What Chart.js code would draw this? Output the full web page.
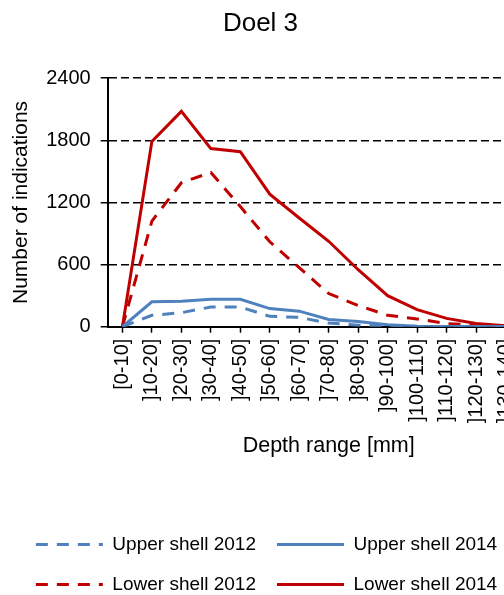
<!DOCTYPE html>
<html>
<head>
<meta charset="utf-8">
<script src="https://cdn.jsdelivr.net/npm/chart.js@4/dist/chart.umd.min.js"></script>
<style>
  html, body { margin: 0; padding: 0; background: #fff; overflow: hidden; }
  #wrap { width: 565px; height: 604px; }
</style>
</head>
<body>
<div id="wrap"><canvas id="grafDoel" width="565" height="604"></canvas></div>
<script>
// data (the last range is cut off at the right edge)
const depthLabels = [
  '[0-10]', ']10-20]', ']20-30]', ']30-40]', ']40-50]', ']50-60]', ']60-70]',
  ']70-80]', ']80-90]', ']90-100]', ']100-110]', ']110-120]', ']120-130]', ']130-140]', ']140-150]'
];
const upperShell2012 = [0, 110, 135, 190, 190, 100, 90, 35, 15, 5, 3, 2, 1, 0, 0];
const upperShell2014 = [0, 240, 245, 265, 265, 175, 150, 70, 50, 18, 5, 3, 2, 1, 0];
const lowerShell2012 = [0, 1020, 1390, 1490, 1160, 820, 570, 320, 205, 110, 75, 30, 15, 5, 2];
const lowerShell2014 = [0, 1790, 2080, 1720, 1690, 1280, 1050, 825, 550, 300, 165, 80, 30, 10, 5];
const yTicks = [0, 600, 1200, 1800, 2400];

const blue = '#4F81BD';
const red = '#C00000';
const fontName = '"Liberation Sans", Arial, sans-serif';

// title and legend sit left of the plot centre in the original
const shiftBoxes = {
  id: 'shiftBoxes',
  afterLayout(chart) {
    const move = (box, dx) => { if (box) { box.left += dx; box.right += dx; } };
    move(chart.titleBlock, -25);
    move(chart.legend, -19);
  }
};

const ctx = document.getElementById('grafDoel').getContext('2d');

const grafDoel = new Chart(ctx, {
  type: 'line',
  data: {
    labels: depthLabels,
    datasets: [
      { label: 'Upper shell 2012', data: upperShell2012, borderColor: blue, backgroundColor: blue,
        borderWidth: 3, borderDash: [12, 9], pointRadius: 0, tension: 0 },
      { label: 'Upper shell 2014', data: upperShell2014, borderColor: blue, backgroundColor: blue,
        borderWidth: 3, pointRadius: 0, tension: 0 },
      { label: 'Lower shell 2012', data: lowerShell2012, borderColor: red, backgroundColor: red,
        borderWidth: 3, borderDash: [12, 9], pointRadius: 0, tension: 0 },
      { label: 'Lower shell 2014', data: lowerShell2014, borderColor: red, backgroundColor: red,
        borderWidth: 3, pointRadius: 0, tension: 0 }
    ]
  },
  options: {
    responsive: false,
    animation: false,
    devicePixelRatio: 1,
    layout: { padding: { left: 6, right: 0, top: 0, bottom: 0 } },
    plugins: {
      title: {
        display: true,
        text: 'Doel 3',
        color: '#000',
        font: { family: fontName, size: 26, weight: 'normal' },
        padding: { top: 8, bottom: 39 }
      },
      legend: {
        position: 'bottom',
        labels: {
          color: '#000',
          font: { family: fontName, size: 19 },
          usePointStyle: true,
          pointStyle: 'line',
          pointStyleWidth: 67,
          padding: 21,
          // legend lines should keep the dash of their dataset
          generateLabels: chart => Chart.defaults.plugins.legend.labels.generateLabels(chart).map(item => {
            const ds = chart.data.datasets[item.datasetIndex];
            item.lineDash = ds.borderDash || [];
            item.lineWidth = 3;
            return item;
          })
        }
      },
      tooltip: { enabled: false }
    },
    scales: {
      x: {
        offset: true,
        grid: { display: true, drawOnChartArea: false, drawTicks: true, tickLength: 6,
                color: '#000', tickColor: '#000', tickWidth: 1.5 },
        border: { display: true, color: '#000', width: 2 },
        ticks: { color: '#000', font: { family: fontName, size: 20 }, minRotation: 90, maxRotation: 90,
                 autoSkip: false, padding: 6 },
        title: { display: true, text: 'Depth range [mm]', color: '#000',
                 font: { family: fontName, size: 21.5 }, padding: { top: 4, bottom: 55 } }
      },
      y: {
        min: 0,
        max: 2400,
        afterBuildTicks: axis => { axis.ticks = yTicks.map(v => ({ value: v })); },
        grid: { color: '#000', lineWidth: 1.5, tickLength: 7, tickColor: '#000', tickWidth: 1.5,
                tickBorderDash: [] },
        border: { display: true, color: '#000', width: 2, dash: [8, 4] },
        ticks: { color: '#000', font: { family: fontName, size: 20 }, padding: 10,
                 callback: v => String(v) },
        title: { display: true, text: 'Number of indications', color: '#000',
                 font: { family: fontName, size: 21 }, padding: { top: 3, bottom: 2 } }
      }
    }
  },
  plugins: [shiftBoxes]
});
</script>
</body>
</html>
